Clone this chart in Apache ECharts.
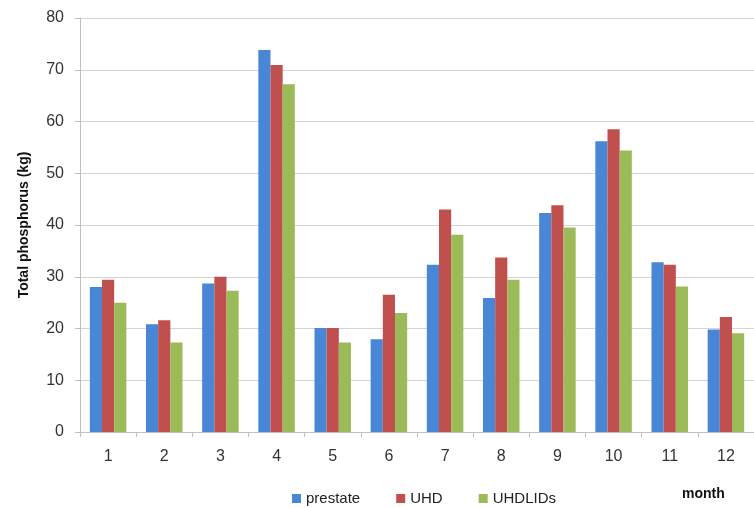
<!DOCTYPE html>
<html>
<head>
<meta charset="utf-8">
<title>Total phosphorus by month</title>
<script src="https://cdn.jsdelivr.net/npm/echarts@6/dist/echarts.min.js"></script>
<style>
  html, body { margin: 0; padding: 0; background: #ffffff; }
  #chart { width: 754px; height: 508px; }
</style>
</head>
<body>
<div id="chart"></div>
<script>
// Monthly total phosphorus load (kg) under three scenarios
const months = ['1', '2', '3', '4', '5', '6', '7', '8', '9', '10', '11', '12'];
const prestate = [28.0, 20.8, 28.7, 73.8, 20.1, 17.9, 32.3, 25.9, 42.3, 56.2, 32.8, 19.8];
const uhd      = [29.4, 21.6, 30.0, 70.9, 20.1, 26.5, 43.0, 33.7, 43.8, 58.5, 32.3, 22.2];
const uhdlids  = [25.0, 17.3, 27.3, 67.2, 17.3, 23.0, 38.1, 29.4, 39.5, 54.4, 28.1, 19.1];
const seriesNames = ['prestate', 'UHD', 'UHDLIDs'];
const colors = ['#4A86D6', '#C0504D', '#9BBB59'];

const font = 'Liberation Sans, Arial, sans-serif';
const chart = echarts.init(document.getElementById('chart'), null, { renderer: 'canvas' });

chart.setOption({
  animation: false,
  backgroundColor: '#ffffff',
  color: colors,
  grid: { left: 80, top: 18, bottom: 76, right: -6, containLabel: false },
  legend: {
    left: 287,
    top: 486,
    itemWidth: 9,
    itemHeight: 9,
    itemGap: 36,
    icon: 'rect',
    textStyle: { fontFamily: font, fontSize: 15, color: '#222222' },
    data: seriesNames
  },
  graphic: [{
    type: 'text',
    left: 682,
    top: 487,
    style: { text: 'month', font: 'bold 14px ' + font, fill: '#111111' }
  }],
  xAxis: {
    type: 'category',
    data: months,
    boundaryGap: true,
    axisLine: { lineStyle: { color: '#bfbfbf', width: 1 } },
    axisTick: { show: true, length: 5, lineStyle: { color: '#bfbfbf' } },
    axisLabel: { margin: 17, fontFamily: font, fontSize: 16, color: '#333333' },
    splitLine: { show: false }
  },
  yAxis: {
    type: 'value',
    min: 0,
    max: 80,
    interval: 10,
    name: 'Total phosphorus (kg)',
    nameLocation: 'middle',
    nameGap: 49,
    nameTextStyle: { fontFamily: font, fontSize: 14, fontWeight: 'bold', color: '#111111' },
    axisLine: { show: true, lineStyle: { color: '#bfbfbf', width: 1 } },
    axisTick: { show: true, length: 5, lineStyle: { color: '#bfbfbf' } },
    axisLabel: { margin: 16, fontFamily: font, fontSize: 16, color: '#333333' },
    splitLine: { lineStyle: { color: '#d4d4d4', width: 1 } }
  },
  series: seriesNames.map((name, i) => ({
    name: name,
    type: 'bar',
    data: [prestate, uhd, uhdlids][i],
    barGap: '0%',
    barCategoryGap: '35%'
  }))
});
</script>
</body>
</html>
